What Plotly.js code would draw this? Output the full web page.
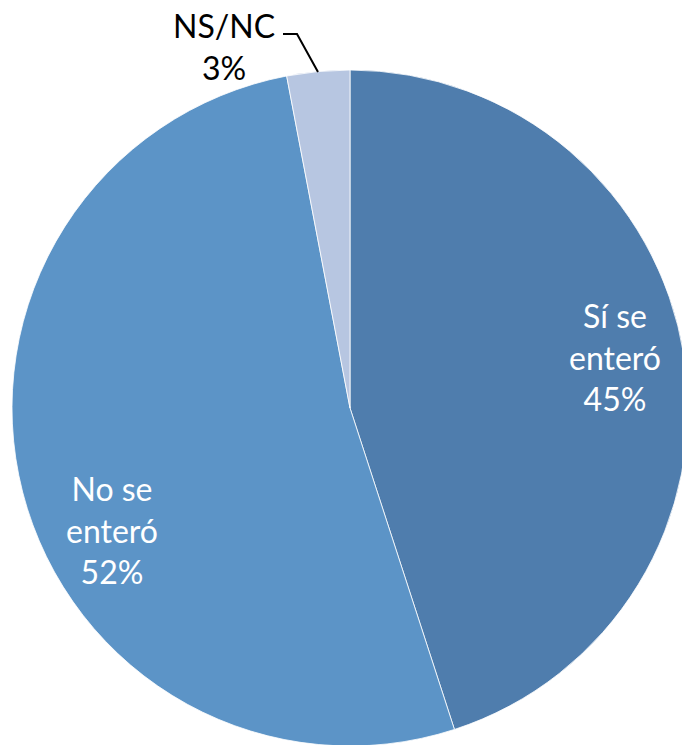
<!DOCTYPE html>
<html><head><meta charset="utf-8">
<script src="https://cdn.plot.ly/plotly-3.0.1.min.js"></script>
<style>html,body{margin:0;padding:0;overflow:hidden;background:#fff}</style>
</head><body><div id="chart"></div>
<script>
const labels = ["Sí se enteró", "No se enteró", "NS/NC"];
const labelLines = ["Sí se<br>enteró", "No se<br>enteró", "NS/NC"];
const values = [45, 52, 3];
const colors = ["#4F7DAD", "#5C94C7", "#B7C6E1"];
const labelPos = [[615, 357, "#ffffff"], [112, 530, "#ffffff"], [224, 46, "#000000"]];

const W = 700, H = 746;
const total = values.reduce((a, b) => a + b, 0);
const annotations = labels.map((l, i) => ({
  x: labelPos[i][0] / W, y: 1 - labelPos[i][1] / H, xref: "paper", yref: "paper",
  xanchor: "center", yanchor: "middle", showarrow: false,
  text: labelLines[i] + "<br>" + Math.round(values[i] / total * 100) + "%",
  font: {family: "Lato, sans-serif", size: 32, color: labelPos[i][2]}
}));

Plotly.newPlot("chart", [{
  type: "pie", labels: labels, values: values, sort: false, direction: "clockwise", rotation: 0,
  marker: {colors: colors, line: {color: "#ffffff", width: 0.8}},
  textinfo: "none", hoverinfo: "label+percent",
  domain: {x: [12 / W, 688 / W], y: [0, 1 - 70 / H]}
}], {
  width: W, height: H, margin: {l: 0, r: 0, t: 0, b: 0}, showlegend: false,
  paper_bgcolor: "#ffffff",
  annotations: annotations,
  shapes: [{type: "path", xref: "paper", yref: "paper",
    path: `M ${283 / W} ${1 - 34 / H} L ${297 / W} ${1 - 34 / H} L ${318 / W} ${1 - 72 / H}`,
    line: {color: "#000000", width: 2}}]
}, {displayModeBar: false, staticPlot: true});
</script></body></html>
